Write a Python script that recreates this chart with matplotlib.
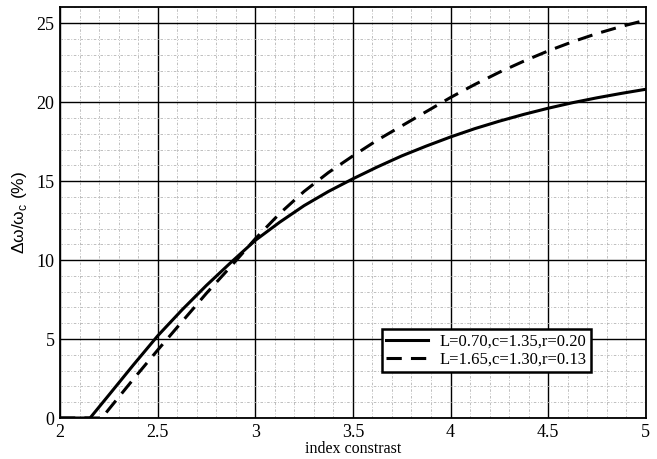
import matplotlib
matplotlib.use("Agg")
import matplotlib.pyplot as plt
from matplotlib.ticker import MultipleLocator

# values
x_solid = [2.0, 2.154, 2.25, 2.375, 2.5, 2.625, 2.75, 2.875, 3.0, 3.125, 3.25, 3.375,
           3.5, 3.625, 3.75, 3.875, 4.0, 4.125, 4.25, 4.375, 4.5, 4.625, 4.75, 4.875, 5.0]
y_solid = [0, 0, 1.45, 3.35, 5.2, 6.85, 8.4, 9.85, 11.25, 12.4, 13.45, 14.35,
           15.15, 15.9, 16.6, 17.22, 17.8, 18.33, 18.8, 19.23, 19.62, 19.97, 20.28, 20.56, 20.82]

x_dashed = [2.0, 2.214, 2.25, 2.375, 2.5, 2.625, 2.75, 2.875, 3.0, 3.125, 3.25, 3.375,
            3.5, 3.625, 3.75, 3.875, 4.0, 4.125, 4.25, 4.375, 4.5, 4.625, 4.75, 4.875, 5.0]
y_dashed = [0, 0, 0.55, 2.45, 4.3, 6.1, 7.9, 9.6, 11.35, 12.95, 14.35, 15.55,
            16.6, 17.6, 18.5, 19.4, 20.3, 21.13, 21.9, 22.6, 23.25, 23.83, 24.35, 24.8, 25.2]

xtick_labels = ['2', '2.5', '3', '3.5', '4', '4.5', '5']
label_solid = "L=0.70,c=1.35,r=0.20"
label_dashed = "L=1.65,c=1.30,r=0.13"

plt.rcParams['font.family'] = ['Liberation Serif', 'DejaVu Serif']
plt.rcParams['mathtext.fontset'] = 'custom'
plt.rcParams['mathtext.rm'] = 'Liberation Sans'

fig = plt.figure(figsize=(6.57, 4.59), dpi=100)
ax = fig.add_axes([0.0913, 0.0893, 0.8917, 0.8944])

ax.plot(x_solid, y_solid, color='black', lw=2.2, label=label_solid)
ax.plot(x_dashed, y_dashed, color='black', lw=2.2, dashes=(5, 3), label=label_dashed)

ax.set_xlim(2, 5)
ax.set_ylim(0, 26)
ax.set_xticks([2, 2.5, 3, 3.5, 4, 4.5, 5])
ax.set_xticklabels(xtick_labels)
ax.xaxis.set_minor_locator(MultipleLocator(0.1))
ax.yaxis.set_major_locator(MultipleLocator(5))
ax.yaxis.set_minor_locator(MultipleLocator(1))

ax.grid(which='major', color='black', lw=1.0, ls='-')
ax.grid(which='minor', color='#b4b4b4', lw=0.6, ls=(0, (3, 2, 1, 2)))
ax.set_axisbelow(True)
ax.tick_params(which='both', length=0, labelsize=13, pad=4)
for s in ax.spines.values():
    s.set_linewidth(1.3)
    s.set_color('black')

ax.set_xlabel('index constrast', fontsize=11.5, labelpad=0)
ax.set_ylabel('Δω/ω$_\\mathrm{c}$ (%)', family=['Liberation Sans', 'DejaVu Sans'],
              fontsize=12.5, labelpad=5)

leg = ax.legend(loc='lower right', bbox_to_anchor=(0.906, 0.112), borderaxespad=0,
                fontsize=12, frameon=True, fancybox=False, handlelength=2.5,
                borderpad=0.25, labelspacing=0.15, handletextpad=0.7)
leg.get_frame().set_edgecolor('black')
leg.get_frame().set_linewidth(1.8)
leg.get_frame().set_alpha(1)

fig.savefig('out.png', dpi=100)
